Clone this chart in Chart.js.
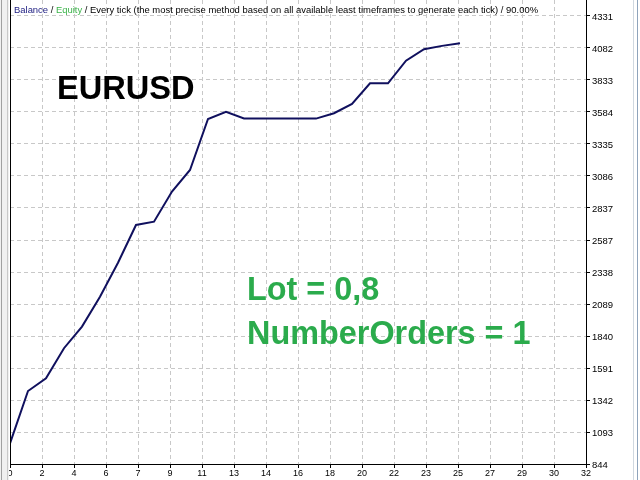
<!DOCTYPE html>
<html>
<head>
<meta charset="utf-8">
<script src="https://cdn.jsdelivr.net/npm/chart.js@4"></script>
<style>
  html, body { margin: 0; padding: 0; background: #fff; }
  #wrap { position: relative; width: 640px; height: 480px; overflow: hidden; }
  #chart { position: absolute; left: 0; top: 0; }
  .note { position: absolute; white-space: nowrap; font-family: "Liberation Sans", Arial, sans-serif; }
  #head { left: 14px; top: 4px; font-size: 9.5px; line-height: 12px; color: #000; transform-origin: 0 0; }
  #pair { left: 57px; top: 72px; font-size: 32.6px; line-height: 32px; font-weight: bold; color: #000; }
  .green { left: 247px; font-size: 32.4px; line-height: 32px; font-weight: bold; color: #2bab4c; }
</style>
</head>
<body>
<div id="wrap">
  <canvas id="chart" width="640" height="480"></canvas>
  <div id="head" class="note"><span style="color:#1c1c80">Balance</span> / <span style="color:#3cb44a">Equity</span> / Every tick (the most precise method based on all available least timeframes to generate each tick) / 90.00%</div>
  <div id="pair" class="note">EURUSD</div>
  <div class="note green" style="top:273px">Lot = 0,8</div>
  <div class="note green" style="top:317px">NumberOrders = 1</div>
</div>
<script>
// trade number vs balance
const trades = [0, 1, 2, 3, 4, 5, 6, 7, 8, 9, 10, 11, 12, 13, 14, 15, 16, 17, 18, 19, 20, 21, 22, 23, 24, 25];
const balance = [1005, 1412, 1511, 1745, 1913, 2146, 2410, 2704, 2730, 2964, 3132, 3529, 3584, 3533, 3533, 3533, 3533, 3532, 3574, 3646, 3807, 3807, 3983, 4072, 4098, 4119];

const xLabels = ['0', '2', '4', '6', '7', '9', '11', '13', '14', '16', '18', '20', '22', '23', '25', '27', '29', '30', '32'];
const yTicks = [844, 1093, 1342, 1591, 1840, 2089, 2338, 2587, 2837, 3086, 3335, 3584, 3833, 4082, 4331];

// fit the header line to its width in the reference
const head = document.getElementById('head');
head.style.transform = 'scaleX(' + (524 / head.offsetWidth) + ')';

const frame = {
    id: 'frame',
    afterDraw(chart) {
        const c = chart.ctx;
        const a = chart.chartArea;
        c.save();
        c.strokeStyle = '#000';
        c.lineWidth = 1;
        c.beginPath();
        c.moveTo(a.left + 0.5, 0);
        c.lineTo(a.left + 0.5, a.bottom);
        c.stroke();
        // window edges
        c.fillStyle = '#f0f0f0';
        c.fillRect(0, 0, 9, 480);
        c.strokeStyle = '#a0a0a0';
        c.beginPath(); c.moveTo(1.5, 0); c.lineTo(1.5, 480); c.stroke();
        c.strokeStyle = '#c8c8c8';
        c.beginPath(); c.moveTo(7.5, 0); c.lineTo(7.5, 480); c.stroke();
        c.strokeStyle = '#d0d8e0';
        c.beginPath(); c.moveTo(633.5, 0); c.lineTo(633.5, 480); c.stroke();
        c.strokeStyle = '#8fa4bc';
        c.beginPath(); c.moveTo(637.5, 0); c.lineTo(637.5, 480); c.stroke();
        c.restore();
    }
};

const ctx = document.getElementById('chart').getContext('2d');
new Chart(ctx, {
    type: 'line',
    data: {
        datasets: [{
            label: 'Balance',
            data: trades.map((t, i) => ({ x: t, y: balance[i] })),
            borderColor: '#10105e',
            borderWidth: 2,
            pointRadius: 0,
            tension: 0,
            fill: false
        }]
    },
    options: {
        responsive: false,
        animation: false,
        devicePixelRatio: 1,
        layout: { padding: { left: 10, right: 0, top: 0, bottom: 0 } },
        plugins: {
            legend: { display: false },
            tooltip: { enabled: false }
        },
        scales: {
            x: {
                type: 'linear',
                min: 0,
                max: 32,
                afterBuildTicks: function (scale) {
                    scale.ticks = xLabels.map((l, i) => ({ value: i * 32 / 18 }));
                },
                afterFit: function (scale) {
                    scale.height = 16;
                    scale.paddingLeft = 0;
                    scale.paddingRight = 0;
                },
                ticks: {
                    autoSkip: false,
                    maxRotation: 0,
                    padding: 0,
                    color: '#000',
                    font: { family: 'Liberation Sans', size: 9 },
                    callback: function (value, index) {
                        return xLabels[index];
                    }
                },
                grid: {
                    color: '#c8c8c8',
                    tickColor: '#000',
                    tickLength: 4,
                    tickBorderDash: []
                },
                border: { display: true, color: '#000', width: 1, dash: [4, 3] }
            },
            y: {
                position: 'right',
                min: 844,
                max: 4455,
                afterBuildTicks: function (scale) {
                    scale.ticks = yTicks.map(v => ({ value: v }));
                },
                afterFit: function (scale) {
                    scale.width = 54;
                    scale.paddingTop = 0;
                    scale.paddingBottom = 0;
                },
                ticks: {
                    padding: 2,
                    labelOffset: 1,
                    color: '#000',
                    font: { family: 'Liberation Sans', size: 9.5 },
                    callback: function (value) {
                        return String(value);
                    }
                },
                grid: {
                    color: '#c8c8c8',
                    tickColor: '#000',
                    tickLength: 4,
                    tickBorderDash: []
                },
                border: { display: true, color: '#000', width: 1, dash: [4, 3] }
            }
        }
    },
    plugins: [frame]
});
</script>
</body>
</html>
